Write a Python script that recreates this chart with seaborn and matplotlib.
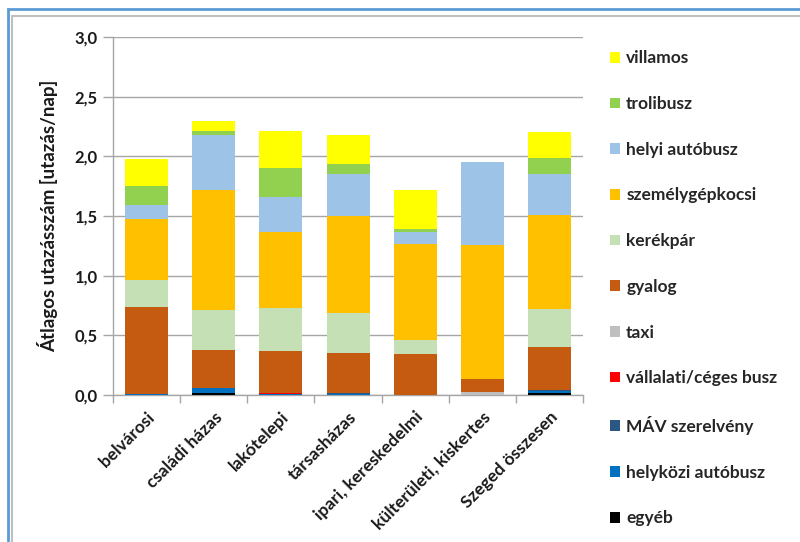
import numpy as np
import pandas as pd
import seaborn as sns
import matplotlib.pyplot as plt
from matplotlib.patches import Rectangle, Patch
from matplotlib.ticker import FuncFormatter, FixedLocator

# ─── Data ─────────────────────────────────────────────────────────────────────
categories = ["belvárosi", "családi házas", "lakótelepi", "társasházas",
              "ipari, kereskedelmi", "külterületi, kiskertes", "Szeged összesen"]

# stacking order: bottom -> top
egyeb     = [0.0,   0.02,  0.0,   0.0,   0.0,   0.0,   0.015]
helykozi  = [0.01,  0.04,  0.01,  0.005, 0.0,   0.0,   0.02]
mav       = [0.0,   0.0,   0.0,   0.01,  0.0,   0.0,   0.005]
vallalati = [0.0,   0.0,   0.01,  0.0,   0.0,   0.0,   0.0]
taxi      = [0.0,   0.0,   0.0,   0.0,   0.0,   0.025, 0.0]
gyalog    = [0.73,  0.32,  0.345, 0.34,  0.345, 0.11,  0.36]
kerekpar  = [0.225, 0.335, 0.36,  0.335, 0.12,  0.0,   0.32]
szemely   = [0.51,  1.0,   0.645, 0.81,  0.80,  1.125, 0.79]
helyi     = [0.12,  0.465, 0.29,  0.35,  0.10,  0.69,  0.345]
troli     = [0.16,  0.035, 0.24,  0.09,  0.03,  0.0,   0.13]
villamos  = [0.225, 0.085, 0.31,  0.235, 0.325, 0.0,   0.215]

series_names = ["egyéb", "helyközi autóbusz", "MÁV szerelvény", "vállalati/céges busz",
                "taxi", "gyalog", "kerékpár", "személygépkocsi", "helyi autóbusz",
                "trolibusz", "villamos"]
series_values = [egyeb, helykozi, mav, vallalati, taxi, gyalog, kerekpar,
                 szemely, helyi, troli, villamos]
series_colors = ["#000000", "#0070C0", "#2A5784", "#FF0000", "#BFBFBF", "#C55A11",
                 "#C5E0B4", "#FFC000", "#9DC3E6", "#92D050", "#FFFF00"]

# ─── Plot ─────────────────────────────────────────────────────────────────────
sns.set_theme(style="white")
plt.rcParams['font.family'] = ['Lato', 'DejaVu Sans']

fig = plt.figure(figsize=(8, 5.42), dpi=100)
ax = fig.add_axes([0.1413, 0.2712, 0.5875, 0.6605])

df = pd.DataFrame(dict(zip(series_names, series_values)), index=categories)
cum = df.cumsum(axis=1)

# draw cumulative totals from top layer down so each layer shows its own segment
for name, color in reversed(list(zip(series_names, series_colors))):
    sns.barplot(x=categories, y=cum[name].values, color=color, width=0.64,
                saturation=1, linewidth=0, ax=ax, zorder=3)

ax.set_ylim(0, 3.0)
ax.set_xlim(-0.5, len(categories) - 0.5)
ax.set_yticks(np.arange(0, 3.01, 0.5))
ax.yaxis.set_major_formatter(FuncFormatter(lambda v, p: f"{v:.1f}".replace(".", ",")))
ax.grid(axis="y", color="#A6A6A6", linewidth=1.0, zorder=0)
ax.set_axisbelow(True)

for s in ["top", "right"]:
    ax.spines[s].set_visible(False)
for s in ["left", "bottom"]:
    ax.spines[s].set_color("#A6A6A6")
    ax.spines[s].set_linewidth(1.0)

ax.tick_params(axis="y", direction="out", length=7, color="#A6A6A6", width=1,
               labelsize=12, pad=4, left=True)
ax.tick_params(axis="x", which="minor", direction="out", length=6, color="#A6A6A6",
               width=1, bottom=True)
ax.tick_params(axis="x", which="major", length=0, pad=10)
ax.xaxis.set_minor_locator(FixedLocator(np.arange(-0.5, len(categories), 1.0)))
for lbl in ax.get_yticklabels():
    lbl.set_fontweight("bold")
    lbl.set_color("#1a1a1a")

ax.set_xticks(range(len(categories)))
ax.set_xticklabels(categories, rotation=45, ha="right", va="top",
                   rotation_mode="anchor", fontsize=12.5, fontweight="bold",
                   color="#1a1a1a")
ax.set_xlabel("")
ax.set_ylabel("Átlagos utazásszám [utazás/nap]", fontsize=13.5,
              fontweight="bold", color="#1a1a1a", labelpad=12)

# legend (top entry = top of stack)
handles = [Patch(facecolor=c, edgecolor="none") for c in reversed(series_colors)]
fig.legend(handles, list(reversed(series_names)), loc="upper left",
           bbox_to_anchor=(0.7625, 0.907), frameon=False, borderpad=0,
           borderaxespad=0, handlelength=0.58, handleheight=0.58,
           handletextpad=0.35, labelspacing=1.71,
           prop={"weight": "bold", "size": 12.5})

# picture frame like the source screenshot
fig.patches.append(Rectangle((8 / 800, -0.1), 1.2, (542 - 9) / 542 + 0.1,
                             transform=fig.transFigure, fill=False,
                             edgecolor="#5B9BD5", linewidth=2.0))
fig.patches.append(Rectangle((12 / 800, -0.1), 1.2, (542 - 16) / 542 + 0.1,
                             transform=fig.transFigure, fill=False,
                             edgecolor="#BFBFBF", linewidth=1.5))

plt.savefig("out.png", dpi=100)
plt.close()
